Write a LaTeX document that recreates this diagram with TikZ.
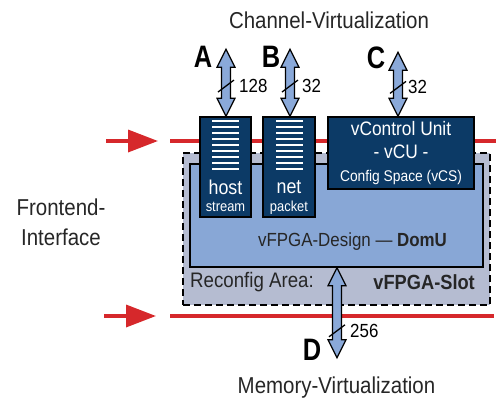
\documentclass[tikz,border=0pt]{standalone}
\usepackage{graphicx}
\usepackage{fontspec}
\setmainfont{Liberation Sans}
\usetikzlibrary{calc,arrows.meta}

\definecolor{navy}{HTML}{0C3A66}
\definecolor{domufill}{HTML}{88A7D6}
\definecolor{slotfill}{HTML}{B5BCD1}
\definecolor{busfill}{HTML}{8AA9D9}
\definecolor{frontred}{HTML}{D6282B}

% slightly condensed text at a given size
\newcommand\cn[2]{\fontsize{#1}{#1}\selectfont\scalebox{0.89}[1]{#2}}
\newcommand\cnb[2]{\fontsize{#1}{#1}\selectfont\bfseries\scalebox{0.82}[1]{#2}}

% vertical double-headed bus arrow between two points
\newcommand\busarrow[2]{%
  \filldraw[bus] let \p1=(#1), \p2=(#2) in
    (\p1) -- (\x1+9pt,\y1-18pt) -- (\x1+4.5pt,\y1-18pt) -- (\x1+4.5pt,\y2+18pt)
    -- (\x1+9pt,\y2+18pt) -- (\x1,\y2) -- (\x1-9pt,\y2+18pt) -- (\x1-4.5pt,\y2+18pt)
    -- (\x1-4.5pt,\y1-18pt) -- (\x1-9pt,\y1-18pt) -- cycle;}

\tikzset{
  bus/.style={fill=busfill, draw=black, line width=1.2pt, line join=miter},
  slash/.style={draw=black, line width=1.3pt},
  redline/.style={draw=frontred, line width=3.5pt},
  redarrow/.style={draw=frontred, line width=3.5pt, -{Triangle[length=30pt,width=22pt]}},
  chanbox/.style={draw=black, fill=navy, line width=1.6pt, minimum width=51pt, minimum height=100pt, inner sep=0pt},
  stripe/.style={draw=white, line width=1.5pt},
  wtext/.style={text=white, inner sep=0pt},
  btext/.style={text=black!85, inner sep=0pt},
  letter/.style={inner sep=0pt},
  width/.style={inner sep=0pt, anchor=west},
}

\begin{document}
\begin{tikzpicture}[x=1pt,y=-1pt]
\useasboundingbox (0,0) rectangle (498,405);

% frontend boundary lines
\coordinate (t0) at (170,141); \coordinate (t1) at (496,141);
\coordinate (b0) at (170,316); \coordinate (b1) at (494,316);
\draw[redline] (t0) -- (t1);
\draw[redline] (b0) -- (b1);
\coordinate (ta) at (106,141); \coordinate (tb) at (158,141);
\coordinate (ba) at (104,316); \coordinate (bb) at (156,316);
\draw[redarrow] (ta) -- (tb);
\draw[redarrow] (ba) -- (bb);

% reconfigurable slot and the design inside it
\node[draw=black, fill=slotfill, line width=2.2pt, dash pattern=on 7pt off 4pt,
      minimum width=307pt, minimum height=152pt, inner sep=0pt] (slot) at (336.5,229) {};
\node[draw=black, fill=domufill, line width=1.6pt,
      minimum width=293pt, minimum height=103pt, inner sep=0pt] (domu) at (336.5,215.5) {};

% channel interfaces
\node[chanbox] (host) at (225.5,167) {};
\node[chanbox, minimum width=52pt] (net) at (289,167) {};
\node[chanbox, minimum width=146pt, minimum height=72pt] (vcu) at (401,153) {};

\foreach \k in {0,...,8} {
  \draw[stripe] (212,121+6*\k) -- (239,121+6*\k);
  \draw[stripe] (276,121+6*\k) -- (303,121+6*\k);
}

\node[wtext] (hostl) at (225.5,187) {\cn{20}{host}};
\node[wtext] (hosts) at (225.5,207) {\cn{14.5}{stream}};
\node[wtext] (netl) at (289,187) {\cn{20}{net}};
\node[wtext] (nets) at (289,207.5) {\cn{14.5}{packet}};
\node[wtext] (vcu1) at (401,128.5) {\cn{19.5}{vControl Unit}};
\node[wtext] (vcu2) at (401,152) {\cn{19.5}{- vCU -}};
\node[wtext] (vcu3) at (401,177) {\cn{15.5}{Config Space (vCS)}};

\node[btext] (design) at (352.5,242) {\cn{19}{vFPGA-Design --- \textbf{DomU}}};
\node[btext, anchor=west] (area) at (190,282) {\cn{21}{Reconfig Area:}};
\node[btext, anchor=east] (slotl) at (475,282) {\cn{20.5}{\bfseries vFPGA-Slot}};

% bus arrows
\path (host.north) ++(0.5,-67) coordinate (Atop);
\path (host.north) ++(0.5,0) coordinate (Abot);
\path (net.north) ++(1,-67) coordinate (Btop);
\path (net.north) ++(1,0) coordinate (Bbot);
\path (vcu.north) ++(-3,-64) coordinate (Ctop);
\path (vcu.north) ++(-3,0) coordinate (Cbot);
\path (domu.south) ++(0.5,0) coordinate (Dtop);
\path (domu.south) ++(0.5,90) coordinate (Dbot);
\busarrow{Atop}{Abot}
\busarrow{Btop}{Bbot}
\busarrow{Ctop}{Cbot}
\busarrow{Dtop}{Dbot}

\coordinate (Am) at ($(Atop)!0.55!(Abot)$);
\coordinate (Bm) at ($(Btop)!0.55!(Bbot)$);
\coordinate (Cm) at ($(Ctop)!0.55!(Cbot)$);
\coordinate (Dm) at ($(Dtop)!0.7!(Dbot)$);
\foreach \m in {Am,Bm,Cm,Dm} \draw[slash] (\m) ++(-8,6) -- ++(16,-12);

\node[width] (Aw) at ($(Am)+(13,0)$) {\cn{19}{128}};
\node[width] (Bw) at ($(Bm)+(12,0)$) {\cn{19}{32}};
\node[width] (Cw) at ($(Cm)+(10,0)$) {\cn{19}{32}};
\node[width] (Dw) at ($(Dm)+(13,0)$) {\cn{19}{256}};

\node[letter] (A) at (203,57) {\cnb{31}{A}};
\node[letter] (B) at (271,57) {\cnb{31}{B}};
\node[letter] (C) at (376,58) {\cnb{31}{C}};
\node[letter] (D) at (312,350) {\cnb{31}{D}};

% titles
\node[btext] (chan) at (329,20) {\cn{23}{Channel-Virtualization}};
\node[btext] (mem) at (336.5,388) {\cn{23}{Memory-Virtualization}};
\node[btext] (front1) at (61,207) {\cn{23}{Frontend-}};
\node[btext] (front2) at (61,237) {\cn{23}{Interface}};
\end{tikzpicture}
\end{document}
